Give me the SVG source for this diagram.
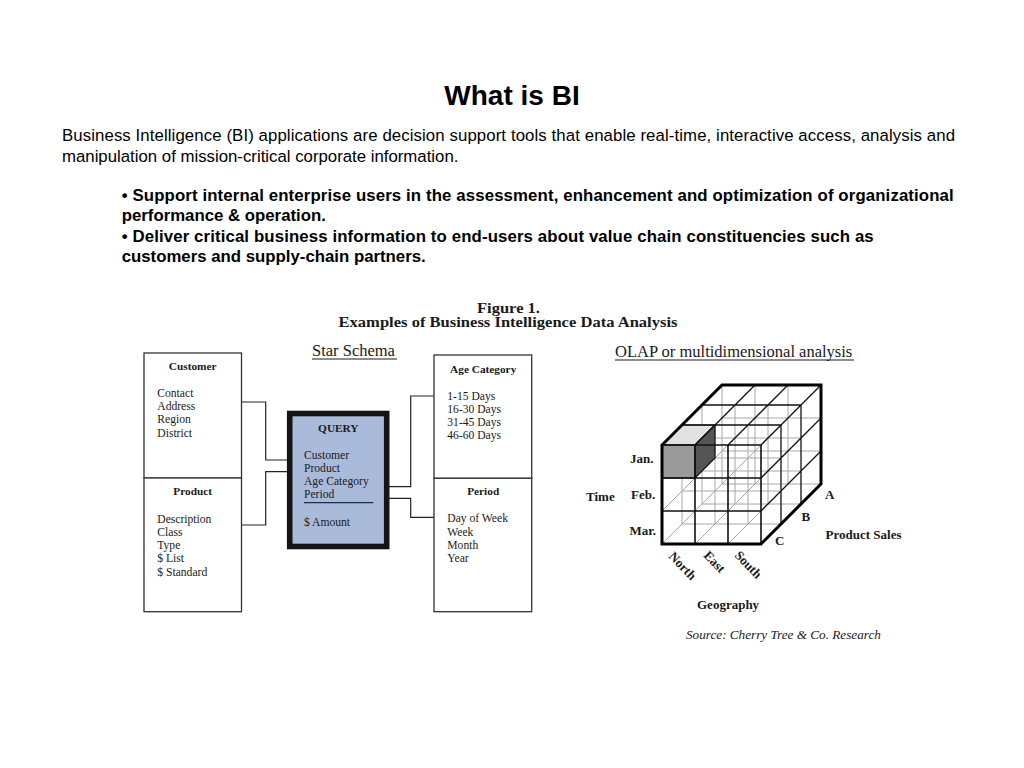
<svg xmlns="http://www.w3.org/2000/svg" width="1024" height="768" viewBox="0 0 1024 768">
<style>
.sans{font-family:"Liberation Sans",Arial,sans-serif;fill:#000}
.ser{font-family:"Liberation Serif","Times New Roman",serif;fill:#1a1a1a}
.hd{font-weight:bold;font-size:11.3px;text-anchor:middle}
.fld{font-size:11.6px}
.cb{font-weight:bold;font-size:13px}
.box{fill:#fff;stroke:#333;stroke-width:1.3}
.conn{fill:none;stroke:#222;stroke-width:1.2}
.hid{stroke:#a8a8a8;stroke-width:1;fill:none}
.vis{stroke:#111;stroke-width:1.3;fill:none}
</style>
<rect width="1024" height="768" fill="#fff"/>

<g id="header">
<text class="sans" x="512" y="105" font-size="28" font-weight="bold" text-anchor="middle">What is BI</text>
<text class="sans" x="62" y="141" font-size="16.8" textLength="893" lengthAdjust="spacing">Business Intelligence (BI) applications are decision support tools that enable real-time, interactive access, analysis and</text>
<text class="sans" x="62" y="161.5" font-size="16.8">manipulation of mission-critical corporate information.</text>
<text class="sans" x="121.7" y="200.5" font-size="16.8" font-weight="bold" textLength="832" lengthAdjust="spacing">• Support internal enterprise users in the assessment, enhancement and optimization of organizational</text>
<text class="sans" x="121.7" y="221" font-size="16.8" font-weight="bold">performance &amp; operation.</text>
<text class="sans" x="121.7" y="241.5" font-size="16.8" font-weight="bold" textLength="752" lengthAdjust="spacing">• Deliver critical business information to end-users about value chain constituencies such as</text>
<text class="sans" x="121.7" y="262" font-size="16.8" font-weight="bold">customers and supply-chain partners.</text>
</g>

<g id="figure-title">
<text class="ser" x="508.5" y="313" font-size="15" font-weight="bold" text-anchor="middle" textLength="63" lengthAdjust="spacingAndGlyphs">Figure 1.</text>
<text class="ser" x="508" y="327" font-size="15" font-weight="bold" text-anchor="middle" textLength="339" lengthAdjust="spacingAndGlyphs">Examples of Business Intelligence Data Analysis</text>
<text class="ser" x="312" y="355.5" font-size="16.5">Star Schema</text>
<line x1="312" y1="359" x2="397" y2="359" stroke="#1a1a1a" stroke-width="1"/>
<text class="ser" x="615" y="356.5" font-size="16.5">OLAP or multidimensional analysis</text>
<line x1="615" y1="360" x2="854" y2="360" stroke="#1a1a1a" stroke-width="1"/>
</g>

<g id="connectors">
<path class="conn" d="M241.7,402 H265.7 V460 H287"/>
<path class="conn" d="M241.7,525 H265.7 V471.7 H287"/>
<path class="conn" d="M389,486.7 H410.7 V396 H434"/>
<path class="conn" d="M389,498.3 H410.7 V517.3 H434"/>
</g>

<g id="customer">
<rect class="box" x="144" y="353" width="97.5" height="125"/>
<text class="ser hd" x="192.7" y="369.5">Customer</text>
<text class="ser fld" x="157.3" y="397.3">Contact</text>
<text class="ser fld" x="157.3" y="410.3">Address</text>
<text class="ser fld" x="157.3" y="423.3">Region</text>
<text class="ser fld" x="157.3" y="436.7">District</text>
</g>

<g id="product">
<rect class="box" x="144" y="478" width="97.5" height="133.7"/>
<text class="ser hd" x="192.7" y="495.3">Product</text>
<text class="ser fld" x="157.3" y="522.5">Description</text>
<text class="ser fld" x="157.3" y="535.5">Class</text>
<text class="ser fld" x="157.3" y="548.8">Type</text>
<text class="ser fld" x="157.3" y="562.2">$ List</text>
<text class="ser fld" x="157.3" y="575.6">$ Standard</text>
</g>

<g id="query">
<rect x="289.7" y="413.5" width="97" height="133" fill="#a9badb" stroke="#141414" stroke-width="5.6"/>
<text class="ser hd" x="338.3" y="432.3" fill="#1b2130">QUERY</text>
<text class="ser fld" x="304" y="458.8" fill="#1b2130">Customer</text>
<text class="ser fld" x="304" y="471.6" fill="#1b2130">Product</text>
<text class="ser fld" x="304" y="485" fill="#1b2130">Age Category</text>
<text class="ser fld" x="304" y="497.8" fill="#1b2130">Period</text>
<line x1="304" y1="502.6" x2="373.3" y2="502.6" stroke="#1b2a45" stroke-width="1.1"/>
<text class="ser fld" x="304" y="526" fill="#1b2130">$ Amount</text>
</g>

<g id="age-category">
<rect class="box" x="434" y="355" width="97.7" height="123.3"/>
<text class="ser hd" x="483.2" y="372.7">Age Category</text>
<text class="ser fld" x="447.3" y="400">1-15 Days</text>
<text class="ser fld" x="447.3" y="412.8">16-30 Days</text>
<text class="ser fld" x="447.3" y="425.8">31-45 Days</text>
<text class="ser fld" x="447.3" y="438.8">46-60 Days</text>
</g>

<g id="period">
<rect class="box" x="434" y="478.3" width="97.7" height="133.4"/>
<text class="ser hd" x="483.2" y="495.3">Period</text>
<text class="ser fld" x="447.3" y="522.4">Day of Week</text>
<text class="ser fld" x="447.3" y="535.6">Week</text>
<text class="ser fld" x="447.3" y="549">Month</text>
<text class="ser fld" x="447.3" y="561.8">Year</text>
</g>

<g id="olap-cube">
<g class="hid">
<path d="M682,458H781M682,491H781M682,524H781M702,438H801M702,471H801M702,504H801M722,418H821M722,451H821M722,484H821"/>
<path d="M682,425V524M715,425V524M748,425V524M702,405V504M735,405V504M768,405V504M722,385V484M755,385V484M788,385V484"/>
<path d="M662,478L722,418M695,478L755,418M728,478L788,418M662,511L722,451M695,511L755,451M728,511L788,451M662,544L722,484M695,544L755,484M728,544L788,484"/>
</g>
<polygon points="662,445 695,445 715,425 682,425" fill="#e2e2e2" stroke="#111" stroke-width="1.2"/>
<polygon points="695,445 715,425 715,458 695,478" fill="#555" stroke="#111" stroke-width="1.2"/>
<rect x="662" y="445" width="33" height="33" fill="#9a9a9a" stroke="#111" stroke-width="1.2"/>
<g class="vis">
<path d="M695,445V544M728,445V544M761,445V544M662,445H761M662,478H761M662,511H761" stroke-width="1.6"/>
<path d="M695,445L755,385M728,445L788,385M761,445L821,385M682,425H781M702,405H801"/>
<path d="M761,478L821,418M761,511L821,451M781,425V524M801,405V504"/>
</g>
<polygon points="662,445 662,544 761,544 821,484 821,385 722,385" fill="none" stroke="#000" stroke-width="3" stroke-linejoin="miter"/>
</g>

<g id="olap-labels">
<text class="ser cb" x="630" y="463">Jan.</text>
<text class="ser cb" x="631" y="498.5">Feb.</text>
<text class="ser cb" x="629.5" y="535">Mar.</text>
<text class="ser cb" x="586" y="501" font-size="12.5">Time</text>
<text class="ser cb" x="825" y="498.5">A</text>
<text class="ser cb" x="801.5" y="521">B</text>
<text class="ser cb" x="775" y="545">C</text>
<text class="ser cb" x="825.5" y="539">Product Sales</text>
<text class="ser cb" transform="translate(668,557) rotate(46)">North</text>
<text class="ser cb" transform="translate(703,556) rotate(46)">East</text>
<text class="ser cb" transform="translate(734,556) rotate(46)">South</text>
<text class="ser cb" x="697" y="608.5">Geography</text>
<text class="ser" x="686" y="638.5" font-size="13.2" font-style="italic">Source: Cherry Tree &amp; Co. Research</text>
</g>
</svg>
